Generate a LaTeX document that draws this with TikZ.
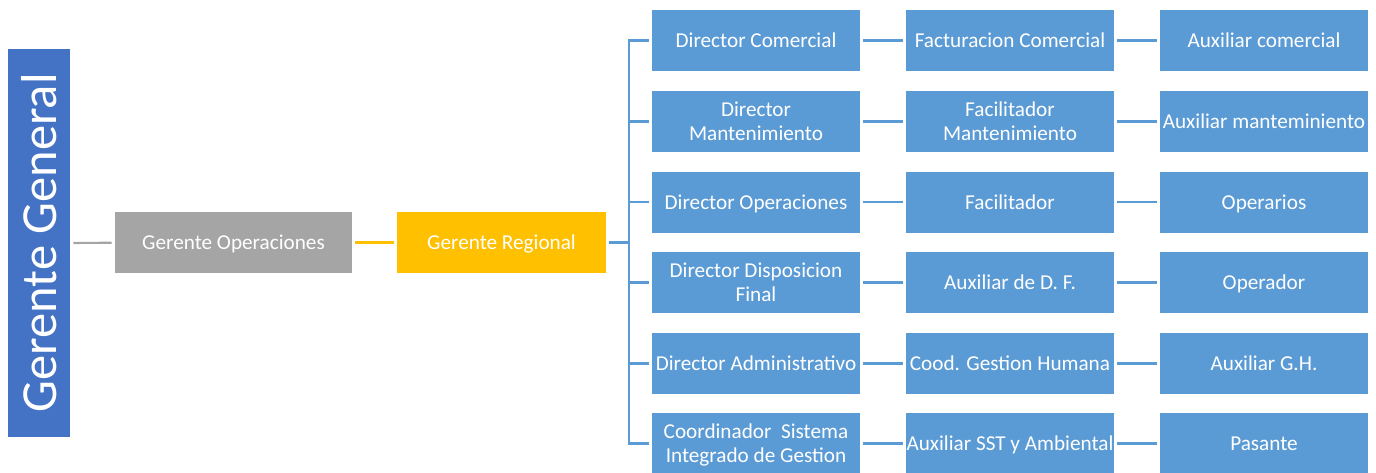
\documentclass[tikz,border=0pt]{standalone}
\usepackage{fontspec}
\setmainfont{Carlito}
% struts that keep every label on a common baseline grid
\newcommand{\labeltop}{21.5pt}
\newcommand{\topstrut}{\vrule height \labeltop depth 0pt width 0pt}
\newcommand{\botstrut}{\vrule height 0pt depth 7.2pt width 0pt}
\begin{document}
\begin{tikzpicture}[x=1pt,y=-1pt,
  base/.style={rectangle, draw=white, line width=0.8pt, text=white, align=center, inner sep=0pt,
               font=\fontsize{21.2}{24}\selectfont,
               execute at begin node=\topstrut, execute at end node=\botstrut},
  rolebox/.style={base, fill=roleblue, minimum width=209, minimum height=62},
  tworow/.code={\renewcommand{\labeltop}{45pt}},
  link/.style={line width=2.2pt, draw=roleblue, shorten <=2.5pt, shorten >=2.5pt}]
\definecolor{roleblue}{HTML}{5B9BD5}
\definecolor{gmblue}{HTML}{4472C4}
\definecolor{opgray}{HTML}{A5A5A5}
\definecolor{regyellow}{HTML}{FFC000}
\useasboundingbox (0,0) rectangle (1376,472);

% top of the chain
\node[rectangle, draw=white, line width=0.8pt, text=white, inner sep=0pt,
      fill=gmblue, minimum width=63, minimum height=389] (gg) at (39,243)
  {\rotatebox{90}{\fontsize{50.5}{56}\selectfont Gerente General}};
\node[base, fill=opgray, minimum width=238, minimum height=62] (go) at (233.5,242.5) {Gerente Operaciones};
\node[base, fill=regyellow, minimum width=210, minimum height=62] (gr) at (501.5,242.5) {Gerente Regional};

\draw[link, draw=opgray] (gg) -- (go);
\draw[link, draw=regyellow] (go) -- (gr);

% directors
\node[rolebox] (d1) at (756,40.5)  {Director Comercial};
\node[rolebox, tworow] (d2) at (756,121.5) {Director\\Mantenimiento};
\node[rolebox] (d3) at (756,202)   {Director Operaciones};
\node[rolebox, tworow] (d4) at (756,282.5) {Director Disposicion\\Final};
\node[rolebox] (d5) at (756,363.5) {Director Administrativo};
\node[rolebox, tworow] (d6) at (756,443.5) {Coordinador\ \ Sistema\\Integrado de Gestion};

% second level
\node[rolebox] (f1) at (1010,40.5)  {Facturacion Comercial};
\node[rolebox, tworow] (f2) at (1010,121.5) {Facilitador\\Mantenimiento};
\node[rolebox] (f3) at (1010,202)   {Facilitador};
\node[rolebox] (f4) at (1010,282.5) {Auxiliar de D. F.};
\node[rolebox] (f5) at (1010,363.5) {Cood. Gestion Humana};
\node[rolebox] (f6) at (1010,443.5) {Auxiliar SST y Ambiental};

% third level
\node[rolebox] (a1) at (1264,40.5)  {Auxiliar comercial};
\node[rolebox] (a2) at (1264,121.5) {Auxiliar manteminiento};
\node[rolebox] (a3) at (1264,202)   {Operarios};
\node[rolebox] (a4) at (1264,282.5) {Operador};
\node[rolebox] (a5) at (1264,363.5) {Auxiliar G.H.};
\node[rolebox] (a6) at (1264,443.5) {Pasante};

% branch spine from the regional manager
\coordinate (spine) at (629,0);
\draw[line width=2.2pt, draw=roleblue, shorten <=2.5pt] (gr.east) -- (gr.east -| spine);
\draw[line width=2.2pt, draw=roleblue, line cap=rect] (spine |- d1.west) -- (spine |- d6.west);
\foreach \d in {d1,d2,d3,d4,d5,d6}
  \draw[line width=2.2pt, draw=roleblue, shorten >=2.5pt] (spine |- \d.west) -- (\d.west);

\foreach \i in {1,...,6} {
  \draw[link] (d\i) -- (f\i);
  \draw[link] (f\i) -- (a\i);
}
\end{tikzpicture}
\end{document}
